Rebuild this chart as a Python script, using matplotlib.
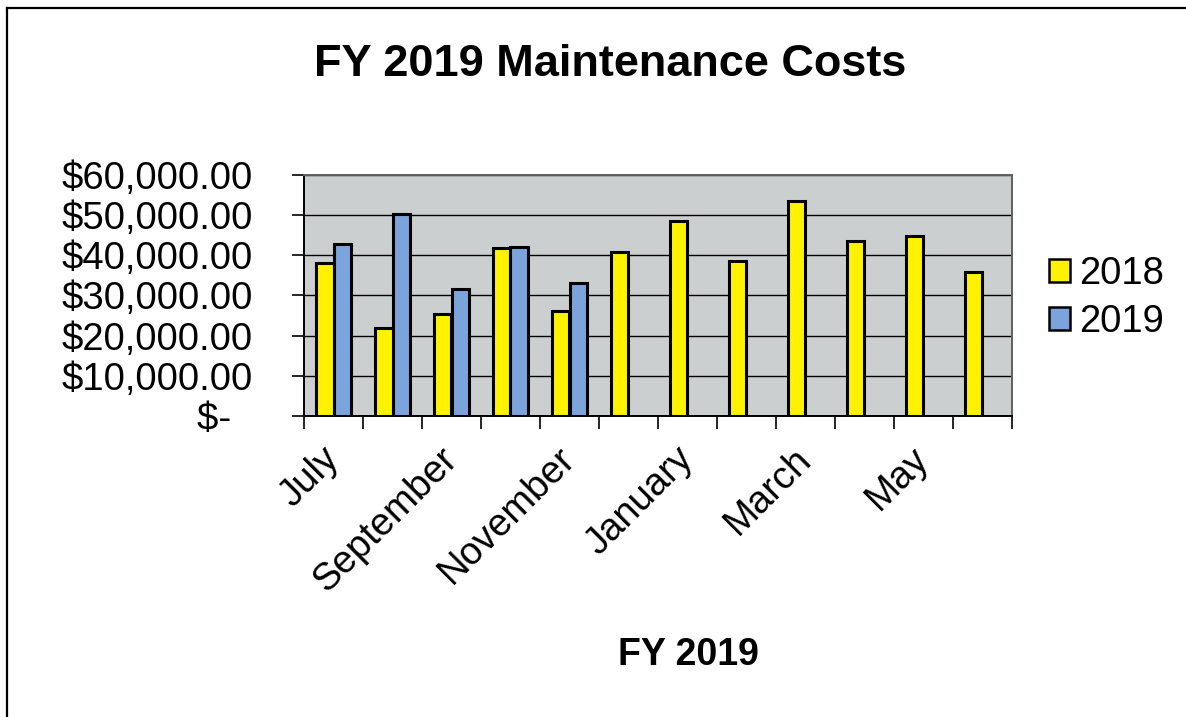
"""
FY 2019 maintenance costs per month, 2018 vs 2019.
"""

import matplotlib
matplotlib.use("Agg")
import matplotlib.pyplot as plt
import matplotlib.ticker as mticker
from matplotlib.patches import Patch
from matplotlib.lines import Line2D
import numpy as np

# ============================== data =========================================

MONTHS = ["July", "August", "September", "October", "November", "December",
          "January", "February", "March", "April", "May", "June"]
COSTS_2018 = [38200, 21800, 25300, 41800, 26250, 40800,
              48500, 38700, 53500, 43500, 44800, 35800]
COSTS_2019 = [42900, 50400, 31500, 42100, 33100, None,
              None, None, None, None, None, None]
SERIES = ["2018", "2019"]
Y_TICKS = [0, 10000, 20000, 30000, 40000, 50000, 60000]

# ============================== style ========================================

YELLOW = "#FFF200"
BLUE = "#7BA4DC"
PLOT_BG = "#CCCFCF"
FONT = "Liberation Sans"


def money(v, pos=None):
    if v == 0:
        return "$-  "
    return "${:,.2f}".format(v)


def main():
    plt.rcParams["font.family"] = [FONT, "DejaVu Sans"]

    fig = plt.figure(figsize=(11.86, 7.17), dpi=100)
    ax = fig.add_axes([304 / 1186, 1 - 416 / 717, 708 / 1186, 241 / 717])
    ax.set_facecolor(PLOT_BG)

    x = np.arange(len(MONTHS))
    w = 0.3
    y18 = np.array(COSTS_2018, dtype=float)
    y19 = np.array([np.nan if v is None else v for v in COSTS_2019], dtype=float)

    ax.bar(x - w / 2, y18, w, color=YELLOW, edgecolor="black", linewidth=2.2, zorder=3)
    ax.bar(x + w / 2, y19, w, color=BLUE, edgecolor="black", linewidth=2.2, zorder=3)

    # y axis
    ax.set_ylim(0, 60000)
    ax.set_yticks(Y_TICKS)
    ax.yaxis.set_major_formatter(mticker.FuncFormatter(money))
    ax.tick_params(axis="y", length=9, width=1.2, pad=28, labelsize=27.5,
                   direction="out")
    ax.grid(axis="y", color="black", linewidth=1.0, zorder=1)

    # x axis: ticks on category boundaries, labels every other month
    ax.set_xlim(-0.5, len(MONTHS) - 0.5)
    ax.set_xticks(np.arange(-0.5, len(MONTHS), 1.0))
    ax.set_xticklabels([])
    ax.tick_params(axis="x", which="major", length=9, width=1.2, direction="out")
    ax.set_xticks(x[::2], minor=True)
    ax.set_xticklabels(MONTHS[::2], minor=True, rotation=45, ha="right",
                       va="center", rotation_mode="anchor", fontsize=27.5)
    ax.tick_params(axis="x", which="minor", length=0, pad=27)

    for side in ["left", "bottom"]:
        ax.spines[side].set_color("black")
        ax.spines[side].set_linewidth(1.4)
    for side in ["top", "right"]:
        ax.spines[side].set_color("#5f5f5f")
        ax.spines[side].set_linewidth(1.4)

    # titles
    fig.text(610 / 1186, 1 - 64 / 717, "FY 2019 Maintenance Costs",
             ha="center", va="center", fontsize=32.5, fontweight="bold")
    fig.text(688 / 1186, 1 - 655 / 717, "FY 2019",
             ha="center", va="center", fontsize=27, fontweight="bold")

    # legend
    handles = [Patch(facecolor=YELLOW, edgecolor="black", linewidth=1.8),
               Patch(facecolor=BLUE, edgecolor="black", linewidth=1.8)]
    fig.legend(handles, SERIES, loc="center left",
               bbox_to_anchor=(1049 / 1186, 1 - 298 / 717),
               frameon=False, fontsize=27.5, handlelength=0.55, handleheight=0.55,
               handletextpad=0.25, labelspacing=0.3, borderpad=0,
               borderaxespad=0)

    # page border (top and left only, the scan is cropped elsewhere)
    fig.add_artist(Line2D([7 / 1186, 1], [1 - 8 / 717, 1 - 8 / 717],
                          color="black", linewidth=1.6, transform=fig.transFigure))
    fig.add_artist(Line2D([7 / 1186, 7 / 1186], [0, 1 - 8 / 717],
                          color="black", linewidth=1.6, transform=fig.transFigure))

    fig.savefig("out.png", dpi=100, facecolor="white")


if __name__ == "__main__":
    main()
